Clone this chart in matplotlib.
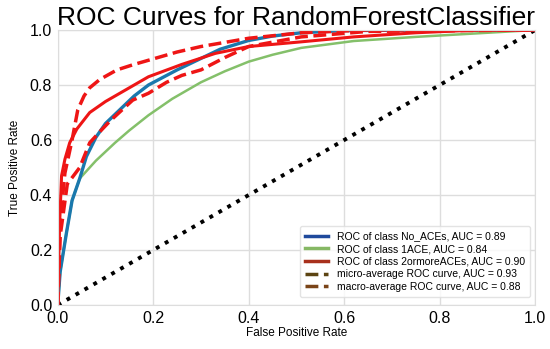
import matplotlib.pyplot as plt
from matplotlib.lines import Line2D

plt.rcParams['font.family'] = ['Liberation Sans', 'DejaVu Sans']

# ROC points
fpr_no = [0.0, 0.005, 0.018, 0.03, 0.046, 0.06, 0.08, 0.10, 0.13, 0.16, 0.19, 0.25, 0.28,
          0.34, 0.40, 0.45, 0.51, 0.60, 0.80, 1.0]
tpr_no = [0.0, 0.12, 0.26, 0.38, 0.46, 0.54, 0.61, 0.66, 0.71, 0.76, 0.80, 0.855, 0.88,
          0.93, 0.962, 0.978, 0.99, 0.998, 1.0, 1.0]

fpr_1ace = [0.0, 0.005, 0.018, 0.03, 0.046, 0.08, 0.12, 0.15, 0.19, 0.24, 0.30, 0.35,
            0.40, 0.45, 0.51, 0.62, 0.75, 0.90, 1.0]
tpr_1ace = [0.0, 0.12, 0.26, 0.38, 0.46, 0.525, 0.59, 0.635, 0.69, 0.75, 0.81, 0.85,
            0.885, 0.91, 0.935, 0.96, 0.975, 0.99, 1.0]

fpr_2more = [0.0, 0.004, 0.008, 0.015, 0.025, 0.04, 0.067, 0.10, 0.13, 0.16, 0.19, 0.26,
             0.33, 0.40, 0.51, 0.62, 0.75, 0.88, 1.0]
tpr_2more = [0.0, 0.30, 0.47, 0.53, 0.59, 0.64, 0.70, 0.74, 0.77, 0.80, 0.83, 0.875,
             0.915, 0.94, 0.957, 0.975, 0.99, 1.0, 1.0]

fpr_micro = [0.0, 0.005, 0.015, 0.03, 0.042, 0.055, 0.067, 0.088, 0.124, 0.16, 0.19, 0.25,
             0.30, 0.40, 0.51, 0.65, 1.0]
tpr_micro = [0.0, 0.30, 0.48, 0.60, 0.71, 0.76, 0.79, 0.82, 0.855, 0.875, 0.89, 0.92,
             0.94, 0.97, 0.99, 1.0, 1.0]

fpr_macro = [0.0, 0.005, 0.02, 0.046, 0.067, 0.088, 0.11, 0.135, 0.157, 0.19, 0.228, 0.26,
             0.30, 0.35, 0.40, 0.51, 0.65, 1.0]
tpr_macro = [0.0, 0.25, 0.44, 0.50, 0.59, 0.63, 0.67, 0.71, 0.745, 0.77, 0.81, 0.835,
             0.855, 0.90, 0.94, 0.975, 0.995, 1.0]

labels = ['ROC of class No_ACEs, AUC = 0.89',
          'ROC of class 1ACE, AUC = 0.84',
          'ROC of class 2ormoreACEs, AUC = 0.90',
          'micro-average ROC curve, AUC = 0.93',
          'macro-average ROC curve, AUC = 0.88']

fig = plt.figure(figsize=(5.5, 3.49), dpi=100)
ax = fig.add_axes([0.105, 0.126, 0.868, 0.788])

ax.plot([0, 1], [0, 1], color='black', linestyle=':', linewidth=2.8)
ax.plot(fpr_1ace, tpr_1ace, color='#84c06a', linewidth=1.8)
ax.plot(fpr_no, tpr_no, color='#1a78ad', linewidth=2.4)
ax.plot(fpr_2more, tpr_2more, color='#ee1515', linewidth=2.2)
ax.plot(fpr_micro, tpr_micro, color='#ee1515', linestyle='--', linewidth=2.5)
ax.plot(fpr_macro, tpr_macro, color='#ee1515', linestyle='--', linewidth=2.5)

# legend handles look darker than the plotted lines in the reference
handles = [Line2D([], [], color='#1f4a9c', linewidth=2.5),
           Line2D([], [], color='#86b864', linewidth=2.5),
           Line2D([], [], color='#a8301c', linewidth=2.5),
           Line2D([], [], color='#5c4412', linewidth=2.5, linestyle='--'),
           Line2D([], [], color='#7a4418', linewidth=2.5, linestyle='--')]
leg = ax.legend(handles, labels, loc='lower right', fontsize=7.5, frameon=True,
                handlelength=2.2, labelspacing=0.25, borderpad=0.5,
                bbox_to_anchor=(1.0, 0.01))
leg.get_frame().set_edgecolor('#dddddd')

ax.set_xlim(0, 1)
ax.set_ylim(0, 1)
ax.set_xticks([0, 0.2, 0.4, 0.6, 0.8, 1.0])
ax.set_yticks([0, 0.2, 0.4, 0.6, 0.8, 1.0])
ax.tick_params(axis='both', which='both', length=0, labelsize=11.5, pad=4)
ax.grid(True, color='#dddddd', linewidth=1)
ax.set_axisbelow(True)
for spine in ax.spines.values():
    spine.set_color('#dddddd')

ax.set_title('ROC Curves for RandomForestClassifier', fontsize=19, pad=2)
ax.set_xlabel('False Positive Rate', fontsize=8.5, labelpad=1)
ax.set_ylabel('True Positive Rate', fontsize=8.5, labelpad=6)

fig.savefig('out.png', dpi=100)
